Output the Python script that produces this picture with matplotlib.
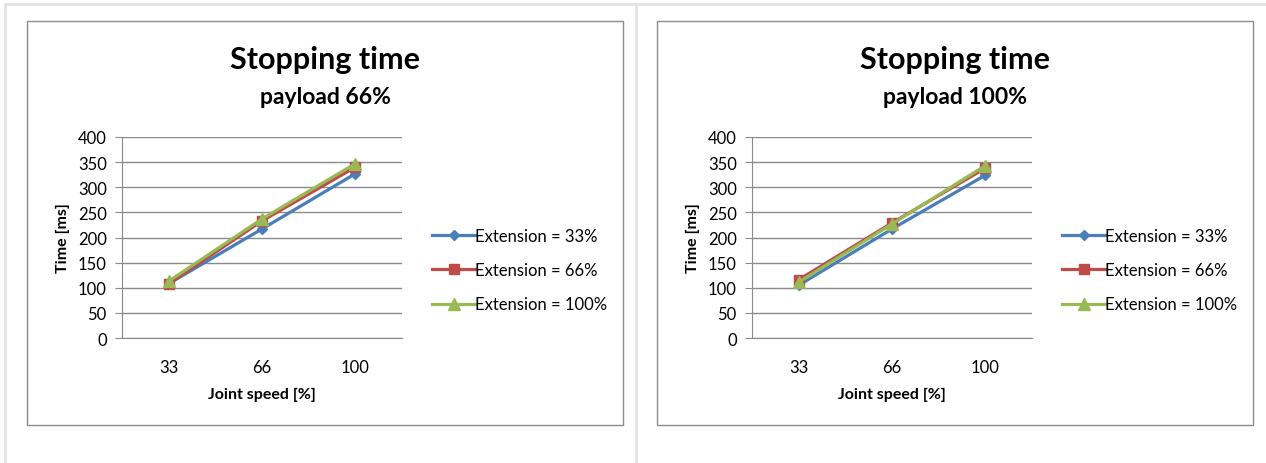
import matplotlib
matplotlib.use("Agg")
import matplotlib.pyplot as plt
from matplotlib.patches import Rectangle
from matplotlib.lines import Line2D

plt.rcParams['font.family'] = ['Lato', 'DejaVu Sans']

# data
speeds = ['33', '66', '100']
series_names = ['Extension = 33%', 'Extension = 66%', 'Extension = 100%']
p66_ext33 = [108, 217, 327]
p66_ext66 = [108, 233, 340]
p66_ext100 = [113, 237, 347]
p100_ext33 = [105, 217, 324]
p100_ext66 = [116, 229, 338]
p100_ext100 = [111, 227, 343]
y_ticks = [0, 50, 100, 150, 200, 250, 300, 350, 400]

colors = ['#4A7EBB', '#BE4B48', '#98B954']
markers = ['D', 's', '^']
msizes = [5.5, 7, 8.5]

W, H = 1266, 464
fig = plt.figure(figsize=(W / 100, H / 100), dpi=100)


def fx(px):
    return px / W


def fy(py):
    return 1 - py / H


# outer page lines
fig.add_artist(Line2D([fx(5), fx(1266)], [fy(5), fy(5)], color='#e2e2e2', lw=2))
fig.add_artist(Line2D([fx(5), fx(5)], [fy(5), fy(464)], color='#e2e2e2', lw=2))
fig.add_artist(Line2D([fx(636), fx(636)], [fy(5), fy(464)], color='#e2e2e2', lw=2))


def draw_chart(x0, subtitle, data):
    # chart frame
    fig.add_artist(Rectangle((fx(x0), fy(426)), fx(596), 404 / H, fill=False,
                             edgecolor='#8c8c8c', lw=1, transform=fig.transFigure))
    cx = x0 + 298
    fig.text(fx(cx), fy(60), 'Stopping time', ha='center', va='center',
             fontsize=22, fontweight='bold')
    fig.text(fx(cx), fy(98), subtitle, ha='center', va='center',
             fontsize=16.5, fontweight='bold')

    ax_left = x0 + 95
    ax = fig.add_axes([fx(ax_left), fy(339), fx(280), 201 / H])
    xs = range(len(speeds))
    for vals, c, m, ms, name in zip(data, colors, markers, msizes, series_names):
        ax.plot(xs, vals, color=c, lw=2.3, marker=m, markersize=ms,
                markeredgecolor=c, label=name)
    ax.set_xlim(-0.5, 2.5)
    ax.set_ylim(0, 400)
    ax.set_yticks(y_ticks)
    ax.set_xticks(list(xs))
    ax.set_xticklabels(speeds)
    ax.grid(axis='y', color='#8a8a8a', lw=1)
    ax.set_axisbelow(True)
    for s in ['top', 'right']:
        ax.spines[s].set_visible(False)
    ax.spines['left'].set_color('#8a8a8a')
    ax.spines['bottom'].set_color('#8a8a8a')
    ax.tick_params(axis='y', length=5, color='#8a8a8a', labelsize=12, pad=6)
    ax.tick_params(axis='x', length=0, labelsize=12, pad=15)
    ax.set_xlabel('Joint speed [%]', fontsize=11.5, fontweight='bold', labelpad=9)
    ax.set_ylabel('Time [ms]', fontsize=11.5, fontweight='bold', labelpad=6)
    ax.legend(loc='center left', bbox_to_anchor=(fx(x0 + 405), fy(271)),
              bbox_transform=fig.transFigure, frameon=False, borderpad=0,
              fontsize=12, handlelength=2.6, handletextpad=0.0, labelspacing=1.1,
              borderaxespad=0)


draw_chart(27, 'payload 66%', [p66_ext33, p66_ext66, p66_ext100])
draw_chart(657, 'payload 100%', [p100_ext33, p100_ext66, p100_ext100])

fig.savefig('out.png', dpi=100)
